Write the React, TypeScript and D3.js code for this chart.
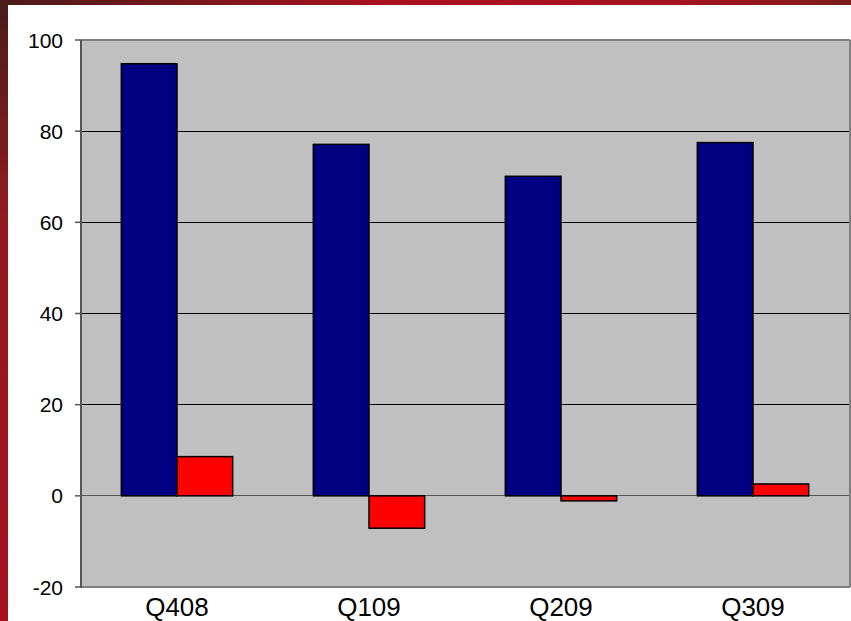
import React from "react";
import * as d3 from "d3";

const categories = ["Q408", "Q109", "Q209", "Q309"];
const seriesA = [94.8, 77.1, 70.1, 77.5];
const seriesB = [8.6, -7.1, -1.1, 2.6];
const yTicks = [-20, 0, 20, 40, 60, 80, 100];

const W = 851;
const H = 621;
const plot = { left: 81, top: 40, right: 849, bottom: 587 };

export default function App() {
  const x = d3
    .scaleBand<string>()
    .domain(categories)
    .range([plot.left, plot.right])
    .paddingInner(0.42)
    .paddingOuter(0.21);
  const inner = d3.scaleBand<string>().domain(["a", "b"]).range([0, x.bandwidth()]);
  const y = d3.scaleLinear().domain([-20, 100]).range([plot.bottom, plot.top]);

  return (
    <svg
      width={W}
      height={H}
      style={{ position: "fixed", left: 0, top: 0, display: "block" }}
      fontFamily="'Liberation Sans', Arial, sans-serif"
    >
      <defs>
        <linearGradient id="topg" x1="0" x2="1" y1="0" y2="0">
          <stop offset="0" stopColor="#4a1c1a" />
          <stop offset="0.45" stopColor="#a8121f" />
          <stop offset="0.8" stopColor="#a5131f" />
          <stop offset="1" stopColor="#7e1c1c" />
        </linearGradient>
        <linearGradient id="leftg" x1="0" x2="0" y1="0" y2="1">
          <stop offset="0" stopColor="#4a1c1a" />
          <stop offset="0.35" stopColor="#901a20" />
          <stop offset="1" stopColor="#a8121f" />
        </linearGradient>
      </defs>
      <rect x={0} y={0} width={W} height={H} fill="#ffffff" />
      <rect x={0} y={0} width={W} height={5} fill="url(#topg)" />
      <rect x={0} y={0} width={8} height={H} fill="url(#leftg)" />

      {/* plot area */}
      <rect
        x={plot.left}
        y={plot.top}
        width={plot.right - plot.left}
        height={plot.bottom - plot.top}
        fill="#c0c0c0"
      />
      {yTicks
        .filter((t) => t !== -20 && t !== 0 && t !== 100)
        .map((t) => (
          <line
            key={"g" + t}
            x1={plot.left}
            x2={plot.right}
            y1={y(t)}
            y2={y(t)}
            stroke="#000"
            strokeWidth={1}
            shapeRendering="crispEdges"
          />
        ))}
      <line
        x1={plot.left}
        x2={plot.right}
        y1={y(0)}
        y2={y(0)}
        stroke="#555"
        strokeWidth={1}
        shapeRendering="crispEdges"
      />
      {/* borders */}
      <line x1={plot.left} x2={plot.right + 1} y1={plot.top} y2={plot.top} stroke="#808080" strokeWidth={2} />
      <line x1={plot.right + 1} x2={plot.right + 1} y1={plot.top} y2={plot.bottom} stroke="#808080" strokeWidth={2} />
      <line x1={plot.left} x2={plot.right + 1} y1={plot.bottom} y2={plot.bottom} stroke="#808080" strokeWidth={2} />
      <line x1={plot.left} x2={plot.left} y1={plot.top} y2={plot.bottom + 1} stroke="#555" strokeWidth={2} />

      {/* bars */}
      {categories.map((c, i) => {
        const x0 = x(c)!;
        const a = seriesA[i];
        const b = seriesB[i];
        return (
          <g key={c}>
            <rect
              x={x0 + inner("a")!}
              y={y(Math.max(0, a))}
              width={inner.bandwidth()}
              height={Math.abs(y(a) - y(0))}
              fill="#000080"
              stroke="#000"
              strokeWidth={1.5}
            />
            <rect
              x={x0 + inner("b")!}
              y={y(Math.max(0, b))}
              width={inner.bandwidth()}
              height={Math.abs(y(b) - y(0))}
              fill="#ff0000"
              stroke="#000"
              strokeWidth={1.5}
            />
          </g>
        );
      })}

      {/* y ticks */}
      {yTicks.map((t) => (
        <g key={"t" + t}>
          <line x1={plot.left - 6} x2={plot.left} y1={y(t)} y2={y(t)} stroke="#555" strokeWidth={1.5} />
          <text
            x={63}
            y={y(t)}
            dy="0.36em"
            textAnchor="end"
            fontSize={21}
            fill="#000"
          >
            {t}
          </text>
        </g>
      ))}

      {/* x labels */}
      {categories.map((c) => (
        <text
          key={"x" + c}
          x={x(c)! + x.bandwidth() / 2}
          y={616}
          textAnchor="middle"
          fontSize={26}
          fill="#000"
        >
          {c}
        </text>
      ))}
    </svg>
  );
}
